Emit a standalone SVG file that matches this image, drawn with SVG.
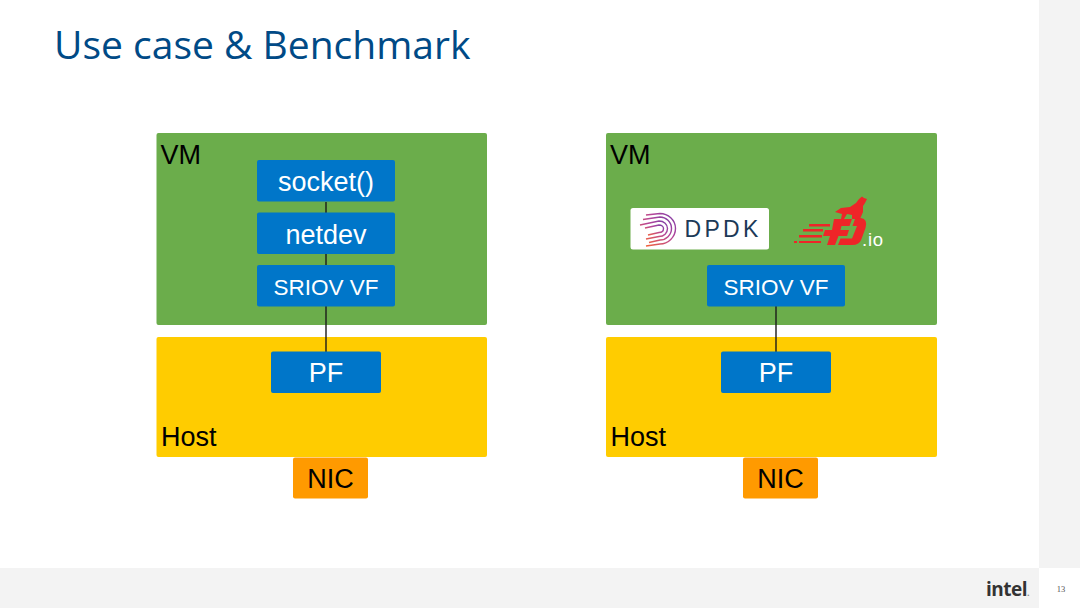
<svg xmlns="http://www.w3.org/2000/svg" width="1080" height="608" viewBox="0 0 1080 608">
<defs>
<linearGradient id="arc" x1="0" y1="1" x2="1" y2="0"><stop offset="0" stop-color="#f2643c"/><stop offset="0.6" stop-color="#b4459a"/><stop offset="1" stop-color="#7a3fa8"/></linearGradient>
</defs>
<style>
.t{font-family:"Liberation Sans",Arial,sans-serif}
.w{fill:#fff;text-anchor:middle}
.k{fill:#000}
.vm{fill:#6bad4b}
.host{fill:#ffcc00}
.blue{fill:#0076c9}
.nic{fill:#ff9a00}
.conn{stroke:#1a1a1a;stroke-width:1.4;fill:none}
.arc{stroke:url(#arc);stroke-width:1.4;fill:none}
.fd{fill:#ee2528}
</style>
<rect width="1080" height="608" fill="#fff"/>
<rect id="side" x="1039" y="0" width="41" height="568" fill="#f3f3f3"/>
<rect id="footer" x="0" y="568" width="1039" height="40" fill="#f3f3f3"/>
<text id="title" x="54" y="59" font-family="'Open Sans','Noto Sans',sans-serif" font-size="39" fill="#004a86">Use case &amp; Benchmark</text>

<g id="vm-left"><rect class="vm" x="156.500" y="133" width="330.500" height="192" rx="2"/><text class="t k" x="160.500" y="164" font-size="27">VM</text></g>
<g id="host-left"><rect class="host" x="156.500" y="337" width="330.500" height="120" rx="2"/><text class="t k" x="161" y="446" font-size="27">Host</text></g>
<g id="vm-right"><rect class="vm" x="606" y="133" width="331" height="192" rx="2"/><text class="t k" x="610" y="164" font-size="27">VM</text></g>
<g id="host-right"><rect class="host" x="606" y="337" width="331" height="120" rx="2"/><text class="t k" x="610.500" y="446" font-size="27">Host</text></g>

<g id="connectors">
<line class="conn" x1="326" y1="202" x2="326" y2="213"/>
<line class="conn" x1="326" y1="254" x2="326" y2="265"/>
<line class="conn" x1="326" y1="306" x2="326" y2="352"/>
<line class="conn" x1="776" y1="306" x2="776" y2="352"/>
</g>

<g id="socket"><rect class="blue" x="257" y="160" width="138" height="41.500" rx="2"/><text class="t w" x="326" y="191" font-size="27">socket()</text></g>
<g id="netdev"><rect class="blue" x="257" y="212.500" width="138" height="41.500" rx="2"/><text class="t w" x="326" y="244" font-size="27">netdev</text></g>
<g id="vf-left"><rect class="blue" x="257" y="265" width="138" height="41.500" rx="2"/><text class="t w" x="326" y="295" font-size="22.500">SRIOV VF</text></g>
<g id="pf-left"><rect class="blue" x="271" y="351.500" width="110" height="41.500" rx="2"/><text class="t w" x="326" y="382" font-size="27">PF</text></g>
<g id="nic-left"><rect class="nic" x="293" y="457.500" width="75" height="41" rx="2"/><text class="t k" x="330.500" y="488" font-size="27" text-anchor="middle">NIC</text></g>

<g id="vf-right"><rect class="blue" x="707" y="265" width="138" height="41.500" rx="2"/><text class="t w" x="776" y="295" font-size="22.500">SRIOV VF</text></g>
<g id="pf-right"><rect class="blue" x="721" y="351.500" width="110" height="41.500" rx="2"/><text class="t w" x="776" y="382" font-size="27">PF</text></g>
<g id="nic-right"><rect class="nic" x="743" y="457.500" width="75" height="41" rx="2"/><text class="t k" x="780.500" y="488" font-size="27" text-anchor="middle">NIC</text></g>

<g id="dpdk-logo">
<rect x="630.500" y="208" width="138.500" height="41.500" rx="2.500" fill="#fff"/>
<path class="arc" d="M646 215 L660 213.500 C668 213.500 675.500 220 675.500 228.500 C675.500 237 668 244 660 244 L646 246"/>
<path class="arc" d="M643 219.500 L660 217 C666 217 671.500 222 671.500 228.500 C671.500 235 666 240 660 240 L649 242.500"/>
<path class="arc" d="M640 225 L659 221 C664 221 667.500 224.500 667.500 228.500 C667.500 233 664 236.500 659 236.500 L646 239"/>
<path class="arc" d="M645 228 L659 225 C661.500 225 663.500 226.500 663.500 228.500 C663.500 231 661.500 232.500 659 232.500 L648 235"/>
<text x="684.500" y="236.500" font-family="'Liberation Sans',Arial,sans-serif" font-size="23" letter-spacing="3.300" fill="#1c3a57">DPDK</text>
</g>

<g id="fdio-logo">
<path class="fd" d="M835 212 L841 208 L850 207 L856 203 L859 199 L862 196.500 L864 198 L867 199 L865 203 L863 206 L863 212 L860 219 L852 219 L852 215 L847 214 L844 219 L841 219 L842 214 Z"/>
<path class="fd" d="M834 219 L852 219 L849.500 226 L841.500 226 L840.500 230 L849 230 L847 236 L838.500 236 L835 245 L827 245 L830 236 L823 236 L825 230 L832 230 Z"/>
<path class="fd" d="M855 219 L861 218 Q868 219 865.500 228 L861.500 239 Q859.500 245 852 245 L838 245 L840.500 238.500 L852 238.500 L857 226 L852.500 226 Z"/>
<rect class="fd" x="809" y="224" width="21" height="2.500"/>
<rect class="fd" x="803" y="229" width="20" height="2.500"/>
<rect class="fd" x="799" y="235" width="23" height="2.500"/>
<rect class="fd" x="794" y="241" width="3" height="2"/>
<rect class="fd" x="799" y="241" width="22" height="2"/>
<text x="862" y="245.500" font-family="'Liberation Sans',Arial,sans-serif" font-size="18.500" letter-spacing="0.800" fill="#fff">.io</text>
</g>

<text id="intel" x="986" y="596" font-family="'Open Sans','Noto Sans',sans-serif" font-weight="700" font-size="19" letter-spacing="-0.500" fill="#333">intel<tspan font-size="9" fill="#888">.</tspan></text>
<text id="page" x="1061" y="592" font-family="'Liberation Serif',serif" font-size="8.500" fill="#555" text-anchor="middle">13</text>
</svg>
